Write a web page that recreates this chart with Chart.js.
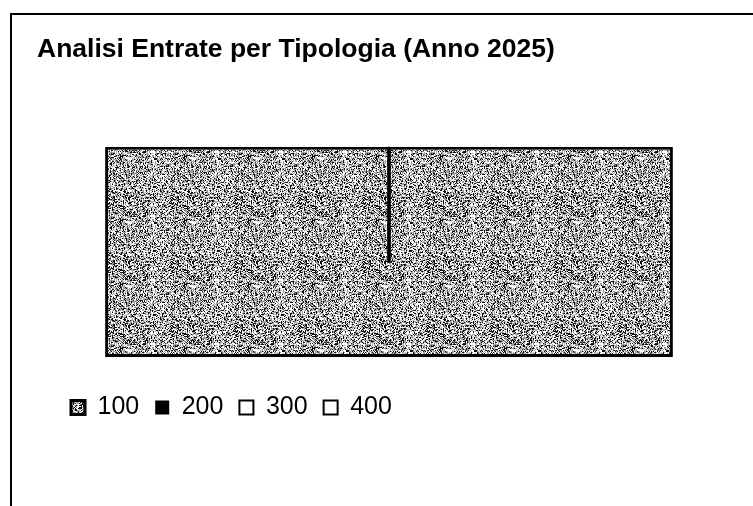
<!DOCTYPE html>
<html>
<head>
<meta charset="utf-8">
<script src="https://cdn.jsdelivr.net/npm/chart.js@4.4.1/dist/chart.umd.min.js"></script>
<style>
    body { margin: 0; background: #fff; }
    #wrap { position: relative; width: 753px; height: 506px; overflow: hidden; }
    #frame { position: absolute; left: 10px; top: 13px; right: -10px; bottom: -10px;
             border-left: 2px solid #000; border-top: 2px solid #000; }
    #chart { position: absolute; left: 0; top: 0; }
</style>
</head>
<body>
<div id="wrap">
    <div id="frame"></div>
    <canvas id="chart" width="753" height="506"></canvas>
</div>
<script>
// Data
const titleText = "Analisi Entrate per Tipologia (Anno 2025)";
const categories = ["Entrate"];
const seriesNames = ["100", "200", "300", "400"];
const values100 = [100];          // fills the whole box
const values200 = [[45, 100]];    // thin black divider, top down to ~45%
const values300 = [null];
const values400 = [null];

const fontFamily = "'Liberation Sans', Arial, sans-serif";

// grainy grey fill, like the faxed original
function makeGrain() {
    const c = document.createElement("canvas");
    c.width = 64;
    c.height = 64;
    const g = c.getContext("2d");
    g.fillStyle = "#fff";
    g.fillRect(0, 0, 64, 64);
    for (let y = 0; y < 64; y++) {
        for (let x = 0; x < 64; x++) {
            const h = Math.abs(Math.sin(x * 12.9898 + y * 78.233) * 43758.5453) % 1;
            if (h < 0.24) g.fillStyle = "#111";
            else if (h < 0.6) g.fillStyle = "#a0a0a0";
            else continue;
            g.fillRect(x, y, 1, 1);
        }
    }
    return g.createPattern(c, "repeat");
}

document.addEventListener("DOMContentLoaded", () => {
    const ctx = document.getElementById("chart").getContext("2d");
    const grain = makeGrain();

    new Chart(ctx, {
        type: "bar",
        data: {
            labels: categories,
            datasets: [
                {
                    label: seriesNames[0],
                    data: values100,
                    backgroundColor: grain,
                    borderColor: "#000",
                    borderWidth: 3,
                    borderSkipped: false,
                    grouped: false,
                    categoryPercentage: 1,
                    barPercentage: 0.85,
                    order: 1
                },
                {
                    label: seriesNames[1],
                    data: values200,
                    backgroundColor: "#000",
                    borderColor: "#000",
                    borderWidth: 0,
                    grouped: false,
                    barThickness: 3,
                    order: 0
                },
                {
                    label: seriesNames[2],
                    data: values300,
                    backgroundColor: "#fff",
                    borderColor: "#000",
                    borderWidth: 2,
                    grouped: false,
                    order: 2
                },
                {
                    label: seriesNames[3],
                    data: values400,
                    backgroundColor: "#fff",
                    borderColor: "#000",
                    borderWidth: 2,
                    grouped: false,
                    order: 3
                }
            ]
        },
        options: {
            responsive: false,
            animation: false,
            layout: {
                padding: { left: 37, right: 30, top: 0, bottom: 76 }
            },
            plugins: {
                title: {
                    display: true,
                    text: titleText,
                    align: "start",
                    color: "#000",
                    font: { family: fontFamily, size: 26.5, weight: "bold" },
                    padding: { top: 34, bottom: 81 }
                },
                legend: {
                    position: "bottom",
                    align: "start",
                    fullSize: false,
                    labels: {
                        color: "#000",
                        font: { family: fontFamily, size: 25 },
                        boxWidth: 14,
                        boxHeight: 14,
                        padding: 16,
                        sort: (a, b) => a.datasetIndex - b.datasetIndex
                    }
                },
                tooltip: { enabled: false }
            },
            scales: {
                x: {
                    display: true,
                    ticks: { display: false },
                    grid: { display: false },
                    border: { display: false },
                    afterFit: (axis) => { axis.height = 22; }
                },
                y: {
                    display: true,
                    min: 0,
                    max: 100,
                    ticks: { display: false },
                    grid: { display: false },
                    border: { display: false },
                    afterFit: (axis) => { axis.width = 18; }
                }
            }
        }
    });
});
</script>
</body>
</html>
